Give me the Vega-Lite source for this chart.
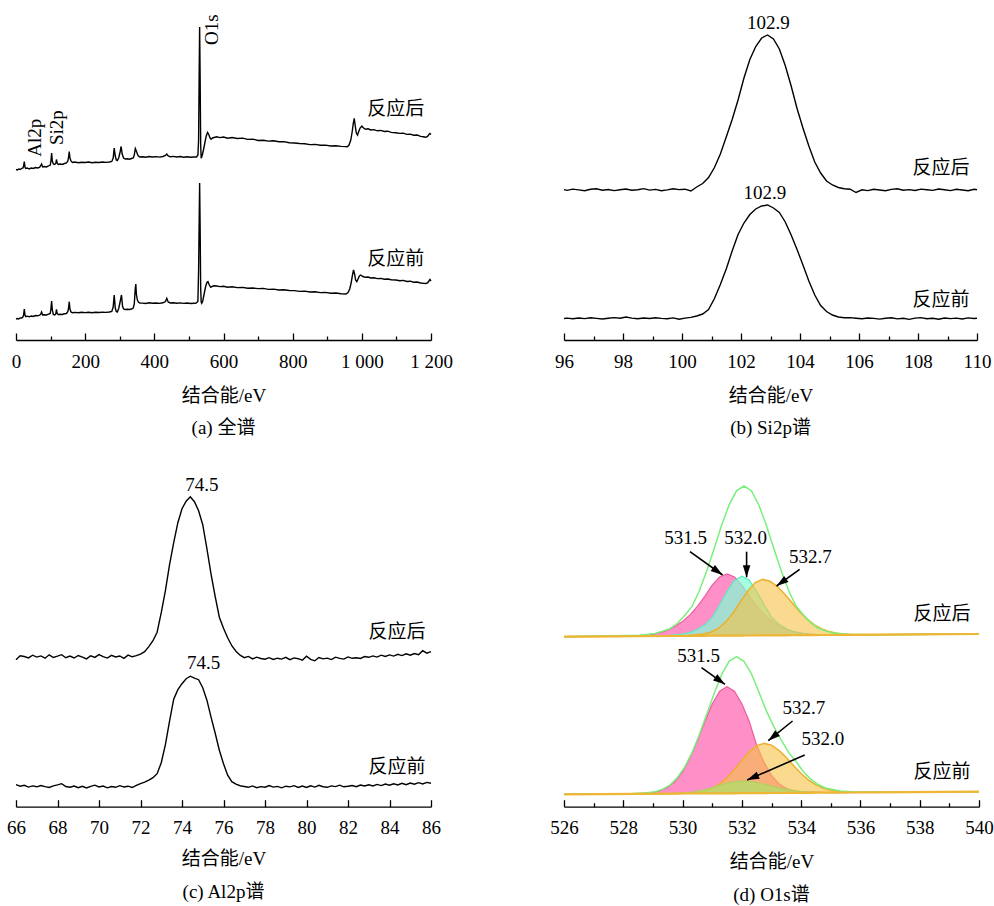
{
  "$schema": "https://vega.github.io/schema/vega-lite/v6.json",
  "background": "white",
  "padding": {"left": 6, "top": 10, "right": 5, "bottom": 5},
  "config": {
    "font": "Liberation Serif, Noto Sans CJK SC",
    "view": {"stroke": null},
    "axis": {
      "domainColor": "#000", "domainWidth": 1.3, "tickColor": "#000", "tickWidth": 1.3,
      "labelFont": "Liberation Serif", "labelColor": "#000", "labelFontSize": 19, "labelPadding": 19, "labelFlush": false, "labelOverlap": false,
      "titleFont": "Liberation Serif, Noto Sans CJK SC", "titleColor": "#000", "titleFontSize": 19, "titleFontWeight": "normal", "titlePadding": 12, "grid": false
    },
    "title": {"font": "Liberation Serif, Noto Sans CJK SC", "fontSize": 19, "fontWeight": "normal", "color": "#000", "offset": 14},
    "text": {"font": "Liberation Serif, Noto Sans CJK SC", "fontSize": 19, "color": "#000"}
  },
  "datasets": {
    "a": [
      {"t":"h","x":0,"y":170.5},{"t":"h","x":4,"y":170},{"t":"h","x":8,"y":171},{"t":"h","x":12,"y":170.5},{"t":"h","x":16,"y":171.5},{"t":"h","x":20,"y":172},{"t":"h","x":22,"y":174},{"t":"h","x":24,"y":178.5},{"t":"h","x":26,"y":173},{"t":"h","x":28,"y":171.5},{"t":"h","x":33,"y":172},{"t":"h","x":38,"y":171},{"t":"h","x":44,"y":172},{"t":"h","x":50,"y":171.5},{"t":"h","x":56,"y":172.5},{"t":"h","x":62,"y":172},{"t":"h","x":68,"y":172.5},{"t":"h","x":71,"y":174},{"t":"h","x":74,"y":176},{"t":"h","x":77,"y":173},{"t":"h","x":82,"y":173.5},{"t":"h","x":88,"y":173},{"t":"h","x":94,"y":174},{"t":"h","x":99,"y":175},{"t":"h","x":101,"y":179},{"t":"h","x":103,"y":187},{"t":"h","x":105,"y":179},{"t":"h","x":108,"y":176},{"t":"h","x":112,"y":175.5},{"t":"h","x":115,"y":176.5},{"t":"h","x":117,"y":180.5},{"t":"h","x":119,"y":177},{"t":"h","x":122,"y":175.5},{"t":"h","x":128,"y":176},{"t":"h","x":134,"y":175.5},{"t":"h","x":140,"y":176.5},{"t":"h","x":146,"y":177},{"t":"h","x":150,"y":179},{"t":"h","x":152,"y":183},{"t":"h","x":154,"y":188.5},{"t":"h","x":156,"y":182},{"t":"h","x":159,"y":179},{"t":"h","x":163,"y":177.5},{"t":"h","x":170,"y":178},{"t":"h","x":180,"y":177.3},{"t":"h","x":190,"y":177.8},{"t":"h","x":200,"y":177.5},{"t":"h","x":210,"y":178},{"t":"h","x":220,"y":177.3},{"t":"h","x":230,"y":177.8},{"t":"h","x":240,"y":177.5},{"t":"h","x":250,"y":178},{"t":"h","x":260,"y":177.6},{"t":"h","x":270,"y":178},{"t":"h","x":277,"y":178.5},{"t":"h","x":281,"y":182},{"t":"h","x":284,"y":192},{"t":"h","x":287,"y":184},{"t":"h","x":290,"y":180},{"t":"h","x":293,"y":179.5},{"t":"h","x":297,"y":182},{"t":"h","x":301,"y":188},{"t":"h","x":304,"y":193.5},{"t":"h","x":307,"y":186},{"t":"h","x":311,"y":182},{"t":"h","x":316,"y":181},{"t":"h","x":322,"y":181.3},{"t":"h","x":328,"y":180.8},{"t":"h","x":334,"y":181.5},{"t":"h","x":339,"y":182},{"t":"h","x":342,"y":185},{"t":"h","x":345,"y":191.5},{"t":"h","x":348,"y":189},{"t":"h","x":351,"y":186},{"t":"h","x":354,"y":184},{"t":"h","x":358,"y":183},{"t":"h","x":366,"y":183.3},{"t":"h","x":375,"y":182.8},{"t":"h","x":385,"y":183.5},{"t":"h","x":395,"y":183},{"t":"h","x":405,"y":183.4},{"t":"h","x":415,"y":182.9},{"t":"h","x":425,"y":183.5},{"t":"h","x":432,"y":184.5},{"t":"h","x":436,"y":186},{"t":"h","x":440,"y":184},{"t":"h","x":446,"y":183.2},{"t":"h","x":455,"y":183.6},{"t":"h","x":465,"y":183},{"t":"h","x":475,"y":183.5},{"t":"h","x":485,"y":182.8},{"t":"h","x":495,"y":183.2},{"t":"h","x":505,"y":182.7},{"t":"h","x":515,"y":183},{"t":"h","x":522,"y":183},{"t":"h","x":526,"y":185},{"t":"h","x":528,"y":200},{"t":"h","x":529.5,"y":260},{"t":"h","x":531,"y":313},{"t":"h","x":532.5,"y":260},{"t":"h","x":534,"y":195},{"t":"h","x":535.5,"y":181.7},{"t":"h","x":538,"y":184},{"t":"h","x":542,"y":190},{"t":"h","x":546,"y":197},{"t":"h","x":550,"y":204},{"t":"h","x":554,"y":207.5},{"t":"h","x":558,"y":205},{"t":"h","x":561,"y":202},{"t":"h","x":564,"y":200.7},{"t":"h","x":568,"y":202},{"t":"h","x":573,"y":202.5},{"t":"h","x":580,"y":203.2},{"t":"h","x":590,"y":202.4},{"t":"h","x":600,"y":203},{"t":"h","x":612,"y":201.8},{"t":"h","x":625,"y":202.5},{"t":"h","x":640,"y":201.5},{"t":"h","x":655,"y":201.9},{"t":"h","x":670,"y":200.6},{"t":"h","x":685,"y":200.9},{"t":"h","x":700,"y":199.5},{"t":"h","x":715,"y":199.8},{"t":"h","x":730,"y":198.9},{"t":"h","x":745,"y":199.2},{"t":"h","x":760,"y":198.2},{"t":"h","x":775,"y":198.4},{"t":"h","x":790,"y":197.3},{"t":"h","x":805,"y":197},{"t":"h","x":820,"y":196.5},{"t":"h","x":835,"y":196.3},{"t":"h","x":850,"y":195.4},{"t":"h","x":865,"y":195.6},{"t":"h","x":880,"y":194.7},{"t":"h","x":895,"y":194.9},{"t":"h","x":910,"y":194},{"t":"h","x":925,"y":194.2},{"t":"h","x":940,"y":193.6},{"t":"h","x":952,"y":193.4},{"t":"h","x":958,"y":193.3},{"t":"h","x":963,"y":195},{"t":"h","x":968,"y":200},{"t":"h","x":972,"y":208},{"t":"h","x":975,"y":216},{"t":"h","x":978,"y":221.7},{"t":"h","x":981,"y":214},{"t":"h","x":984,"y":207},{"t":"h","x":987.5,"y":205},{"t":"h","x":991,"y":208.5},{"t":"h","x":995,"y":212},{"t":"h","x":1000,"y":214},{"t":"h","x":1005,"y":212},{"t":"h","x":1011,"y":210.7},{"t":"h","x":1018,"y":211.2},{"t":"h","x":1026,"y":210},{"t":"h","x":1035,"y":210.4},{"t":"h","x":1045,"y":209.2},{"t":"h","x":1055,"y":209.6},{"t":"h","x":1065,"y":208.5},{"t":"h","x":1075,"y":208.8},{"t":"h","x":1085,"y":207.6},{"t":"h","x":1098,"y":207.3},{"t":"h","x":1110,"y":206.6},{"t":"h","x":1120,"y":206.9},{"t":"h","x":1130,"y":205.6},{"t":"h","x":1140,"y":205.9},{"t":"h","x":1150,"y":204.8},{"t":"h","x":1160,"y":205},{"t":"h","x":1170,"y":203.6},{"t":"h","x":1178,"y":203.3},{"t":"h","x":1185,"y":202.7},{"t":"h","x":1190,"y":203.5},{"t":"h","x":1194,"y":205.5},{"t":"h","x":1197,"y":206.5},{"t":"h","x":1200,"y":205.5},
      {"t":"q","x":0,"y":21},{"t":"q","x":4,"y":21.5},{"t":"q","x":8,"y":21},{"t":"q","x":12,"y":22},{"t":"q","x":16,"y":22},{"t":"q","x":20,"y":23},{"t":"q","x":22,"y":25},{"t":"q","x":24,"y":31},{"t":"q","x":26,"y":25},{"t":"q","x":28,"y":23.5},{"t":"q","x":33,"y":23.8},{"t":"q","x":38,"y":23.2},{"t":"q","x":44,"y":24},{"t":"q","x":50,"y":23.6},{"t":"q","x":56,"y":24.5},{"t":"q","x":62,"y":24.2},{"t":"q","x":68,"y":24.8},{"t":"q","x":71,"y":25.5},{"t":"q","x":74,"y":28},{"t":"q","x":77,"y":25},{"t":"q","x":82,"y":25.2},{"t":"q","x":88,"y":25},{"t":"q","x":94,"y":25.8},{"t":"q","x":99,"y":26.5},{"t":"q","x":101,"y":31},{"t":"q","x":103,"y":39},{"t":"q","x":105,"y":30},{"t":"q","x":108,"y":25.5},{"t":"q","x":112,"y":25},{"t":"q","x":115,"y":26},{"t":"q","x":117,"y":30.7},{"t":"q","x":119,"y":26.5},{"t":"q","x":122,"y":25.5},{"t":"q","x":128,"y":25.8},{"t":"q","x":134,"y":25.5},{"t":"q","x":140,"y":26.2},{"t":"q","x":146,"y":26.5},{"t":"q","x":150,"y":28.5},{"t":"q","x":152,"y":32},{"t":"q","x":154,"y":38.3},{"t":"q","x":156,"y":31},{"t":"q","x":159,"y":28},{"t":"q","x":163,"y":27.3},{"t":"q","x":170,"y":27.6},{"t":"q","x":180,"y":27.2},{"t":"q","x":190,"y":27.7},{"t":"q","x":200,"y":27.4},{"t":"q","x":210,"y":27.8},{"t":"q","x":220,"y":27.3},{"t":"q","x":230,"y":27.7},{"t":"q","x":240,"y":27.5},{"t":"q","x":250,"y":27.9},{"t":"q","x":260,"y":27.6},{"t":"q","x":270,"y":28},{"t":"q","x":277,"y":28.5},{"t":"q","x":281,"y":33},{"t":"q","x":284,"y":45},{"t":"q","x":287,"y":32},{"t":"q","x":290,"y":28.5},{"t":"q","x":293,"y":28},{"t":"q","x":297,"y":31.5},{"t":"q","x":301,"y":38},{"t":"q","x":305,"y":45},{"t":"q","x":308,"y":34},{"t":"q","x":311,"y":31},{"t":"q","x":316,"y":30.5},{"t":"q","x":322,"y":30.8},{"t":"q","x":328,"y":30.5},{"t":"q","x":334,"y":31},{"t":"q","x":339,"y":32},{"t":"q","x":342,"y":36},{"t":"q","x":345,"y":52},{"t":"q","x":346.5,"y":56},{"t":"q","x":348,"y":46},{"t":"q","x":351,"y":40},{"t":"q","x":354,"y":38},{"t":"q","x":358,"y":37},{"t":"q","x":366,"y":36.9},{"t":"q","x":375,"y":36.5},{"t":"q","x":385,"y":37.2},{"t":"q","x":395,"y":36.7},{"t":"q","x":405,"y":37},{"t":"q","x":415,"y":36.6},{"t":"q","x":425,"y":37.2},{"t":"q","x":432,"y":38.5},{"t":"q","x":436,"y":41.7},{"t":"q","x":440,"y":38},{"t":"q","x":446,"y":37},{"t":"q","x":455,"y":37.3},{"t":"q","x":465,"y":36.8},{"t":"q","x":475,"y":37.1},{"t":"q","x":485,"y":36.6},{"t":"q","x":495,"y":37},{"t":"q","x":505,"y":36.5},{"t":"q","x":515,"y":36.8},{"t":"q","x":521,"y":37},{"t":"q","x":526,"y":38.5},{"t":"q","x":528,"y":70},{"t":"q","x":529.5,"y":115},{"t":"q","x":531,"y":157},{"t":"q","x":532.5,"y":110},{"t":"q","x":534,"y":52},{"t":"q","x":535.5,"y":38},{"t":"q","x":537,"y":36.7},{"t":"q","x":540,"y":39},{"t":"q","x":544,"y":46},{"t":"q","x":548,"y":53},{"t":"q","x":552,"y":57.5},{"t":"q","x":555,"y":58.3},{"t":"q","x":559,"y":55},{"t":"q","x":563,"y":52.7},{"t":"q","x":567,"y":53.5},{"t":"q","x":573,"y":54.2},{"t":"q","x":580,"y":54},{"t":"q","x":590,"y":53.4},{"t":"q","x":600,"y":53.8},{"t":"q","x":612,"y":52.7},{"t":"q","x":625,"y":53.2},{"t":"q","x":640,"y":52.4},{"t":"q","x":655,"y":52.6},{"t":"q","x":670,"y":51.7},{"t":"q","x":685,"y":52},{"t":"q","x":700,"y":51.4},{"t":"q","x":715,"y":51.6},{"t":"q","x":730,"y":50.6},{"t":"q","x":745,"y":50.9},{"t":"q","x":760,"y":50},{"t":"q","x":775,"y":50.2},{"t":"q","x":790,"y":49.5},{"t":"q","x":805,"y":49.4},{"t":"q","x":820,"y":48.6},{"t":"q","x":835,"y":48.9},{"t":"q","x":850,"y":48},{"t":"q","x":865,"y":48.2},{"t":"q","x":880,"y":47.4},{"t":"q","x":895,"y":47.6},{"t":"q","x":910,"y":46.8},{"t":"q","x":925,"y":47},{"t":"q","x":940,"y":46.3},{"t":"q","x":954,"y":46},{"t":"q","x":960,"y":47.5},{"t":"q","x":965,"y":51},{"t":"q","x":969,"y":57},{"t":"q","x":973,"y":65},{"t":"q","x":976,"y":70},{"t":"q","x":979,"y":66},{"t":"q","x":982,"y":60},{"t":"q","x":985.5,"y":58.3},{"t":"q","x":989,"y":61},{"t":"q","x":993,"y":64},{"t":"q","x":997,"y":65},{"t":"q","x":1003,"y":63.5},{"t":"q","x":1011,"y":62.7},{"t":"q","x":1018,"y":63},{"t":"q","x":1026,"y":62},{"t":"q","x":1035,"y":62.3},{"t":"q","x":1045,"y":61.4},{"t":"q","x":1055,"y":61.6},{"t":"q","x":1065,"y":60.8},{"t":"q","x":1075,"y":61},{"t":"q","x":1085,"y":60.3},{"t":"q","x":1098,"y":60},{"t":"q","x":1110,"y":59.3},{"t":"q","x":1120,"y":59.6},{"t":"q","x":1130,"y":58.5},{"t":"q","x":1140,"y":58.8},{"t":"q","x":1150,"y":57.8},{"t":"q","x":1160,"y":58},{"t":"q","x":1170,"y":57},{"t":"q","x":1178,"y":56.7},{"t":"q","x":1185,"y":56.5},{"t":"q","x":1190,"y":57.2},{"t":"q","x":1194,"y":59},{"t":"q","x":1197,"y":60.5},{"t":"q","x":1200,"y":59}
    ],
    "b": [
      {"t":"h","x":96.0,"y":150.4},{"t":"h","x":96.1,"y":149.6},{"t":"h","x":96.3,"y":150.9},{"t":"h","x":96.5,"y":150.1},{"t":"h","x":96.7,"y":149.2},{"t":"h","x":96.9,"y":150.7},{"t":"h","x":97.1,"y":151.3},{"t":"h","x":97.3,"y":149.8},{"t":"h","x":97.5,"y":150.5},{"t":"h","x":97.7,"y":149.4},{"t":"h","x":97.9,"y":150.2},{"t":"h","x":98.1,"y":151.0},{"t":"h","x":98.3,"y":149.7},{"t":"h","x":98.5,"y":150.3},{"t":"h","x":98.7,"y":151.4},{"t":"h","x":98.9,"y":149.9},{"t":"h","x":99.1,"y":150.6},{"t":"h","x":99.3,"y":149.3},{"t":"h","x":99.5,"y":150.1},{"t":"h","x":99.7,"y":151.2},{"t":"h","x":99.9,"y":150.4},{"t":"h","x":100.1,"y":150.8},{"t":"h","x":100.3,"y":149.0},{"t":"h","x":100.5,"y":153.0},{"t":"h","x":100.7,"y":156.5},{"t":"h","x":100.9,"y":162.5},{"t":"h","x":101.1,"y":172.5},{"t":"h","x":101.3,"y":186.0},{"t":"h","x":101.5,"y":203.0},{"t":"h","x":101.7,"y":220.5},{"t":"h","x":101.9,"y":240.0},{"t":"h","x":102.1,"y":262.0},{"t":"h","x":102.3,"y":280.5},{"t":"h","x":102.5,"y":293.5},{"t":"h","x":102.7,"y":302.0},{"t":"h","x":102.9,"y":305.0},{"t":"h","x":103.1,"y":301.0},{"t":"h","x":103.3,"y":291.0},{"t":"h","x":103.5,"y":274.5},{"t":"h","x":103.7,"y":254.0},{"t":"h","x":103.9,"y":231.5},{"t":"h","x":104.1,"y":212.0},{"t":"h","x":104.3,"y":194.0},{"t":"h","x":104.5,"y":178.0},{"t":"h","x":104.7,"y":167.0},{"t":"h","x":104.9,"y":159.0},{"t":"h","x":105.1,"y":155.0},{"t":"h","x":105.3,"y":152.5},{"t":"h","x":105.5,"y":151.2},{"t":"h","x":105.7,"y":150.8},{"t":"h","x":105.9,"y":147.5},{"t":"h","x":106.1,"y":150.2},{"t":"h","x":106.3,"y":149.4},{"t":"h","x":106.5,"y":150.8},{"t":"h","x":106.7,"y":150.0},{"t":"h","x":106.9,"y":149.2},{"t":"h","x":107.1,"y":150.6},{"t":"h","x":107.3,"y":151.3},{"t":"h","x":107.5,"y":149.8},{"t":"h","x":107.7,"y":150.4},{"t":"h","x":107.9,"y":149.5},{"t":"h","x":108.1,"y":150.9},{"t":"h","x":108.3,"y":150.2},{"t":"h","x":108.5,"y":149.6},{"t":"h","x":108.7,"y":151.0},{"t":"h","x":108.9,"y":150.3},{"t":"h","x":109.1,"y":149.4},{"t":"h","x":109.3,"y":150.7},{"t":"h","x":109.5,"y":150.0},{"t":"h","x":109.7,"y":149.3},{"t":"h","x":109.9,"y":150.8},{"t":"h","x":110.0,"y":150.3},
      {"t":"q","x":96.0,"y":21.5},{"t":"q","x":96.1,"y":21.9},{"t":"q","x":96.3,"y":21.2},{"t":"q","x":96.5,"y":22.0},{"t":"q","x":96.7,"y":21.4},{"t":"q","x":96.9,"y":22.3},{"t":"q","x":97.1,"y":21.6},{"t":"q","x":97.3,"y":21.0},{"t":"q","x":97.5,"y":21.8},{"t":"q","x":97.7,"y":22.4},{"t":"q","x":97.9,"y":21.7},{"t":"q","x":98.1,"y":23.0},{"t":"q","x":98.3,"y":21.9},{"t":"q","x":98.5,"y":21.3},{"t":"q","x":98.7,"y":22.0},{"t":"q","x":98.9,"y":21.5},{"t":"q","x":99.1,"y":22.2},{"t":"q","x":99.3,"y":21.6},{"t":"q","x":99.5,"y":21.2},{"t":"q","x":99.7,"y":22.1},{"t":"q","x":99.9,"y":20.8},{"t":"q","x":100.1,"y":21.9},{"t":"q","x":100.3,"y":22.6},{"t":"q","x":100.5,"y":24.0},{"t":"q","x":100.7,"y":26.0},{"t":"q","x":100.9,"y":30.5},{"t":"q","x":101.1,"y":41.5},{"t":"q","x":101.3,"y":55.5},{"t":"q","x":101.5,"y":71.0},{"t":"q","x":101.7,"y":89.0},{"t":"q","x":101.9,"y":105.5},{"t":"q","x":102.1,"y":117.0},{"t":"q","x":102.3,"y":125.5},{"t":"q","x":102.5,"y":131.0},{"t":"q","x":102.7,"y":134.0},{"t":"q","x":102.9,"y":135.0},{"t":"q","x":103.1,"y":132.0},{"t":"q","x":103.3,"y":127.5},{"t":"q","x":103.5,"y":118.0},{"t":"q","x":103.7,"y":105.0},{"t":"q","x":103.9,"y":90.5},{"t":"q","x":104.1,"y":75.0},{"t":"q","x":104.3,"y":59.0},{"t":"q","x":104.5,"y":45.0},{"t":"q","x":104.7,"y":34.5},{"t":"q","x":104.9,"y":28.5},{"t":"q","x":105.1,"y":25.0},{"t":"q","x":105.3,"y":23.0},{"t":"q","x":105.5,"y":22.3},{"t":"q","x":105.7,"y":22.4},{"t":"q","x":105.9,"y":21.8},{"t":"q","x":106.1,"y":21.3},{"t":"q","x":106.3,"y":22.0},{"t":"q","x":106.5,"y":21.6},{"t":"q","x":106.7,"y":20.9},{"t":"q","x":106.9,"y":21.7},{"t":"q","x":107.1,"y":22.2},{"t":"q","x":107.3,"y":21.1},{"t":"q","x":107.5,"y":21.8},{"t":"q","x":107.7,"y":20.6},{"t":"q","x":107.9,"y":21.9},{"t":"q","x":108.1,"y":22.4},{"t":"q","x":108.3,"y":21.2},{"t":"q","x":108.5,"y":21.7},{"t":"q","x":108.7,"y":20.8},{"t":"q","x":108.9,"y":22.0},{"t":"q","x":109.1,"y":21.4},{"t":"q","x":109.3,"y":21.9},{"t":"q","x":109.5,"y":21.0},{"t":"q","x":109.7,"y":22.1},{"t":"q","x":109.9,"y":21.5},{"t":"q","x":110.0,"y":21.8}
    ],
    "c": [
      {"t":"h","x":66.0,"y":147.0},{"t":"h","x":66.2,"y":151.0},{"t":"h","x":66.4,"y":150.2},{"t":"h","x":66.6,"y":148.8},{"t":"h","x":66.8,"y":151.5},{"t":"h","x":67.0,"y":149.6},{"t":"h","x":67.2,"y":150.8},{"t":"h","x":67.4,"y":148.5},{"t":"h","x":67.6,"y":151.9},{"t":"h","x":67.8,"y":149.2},{"t":"h","x":68.0,"y":150.5},{"t":"h","x":68.2,"y":152.0},{"t":"h","x":68.4,"y":149.0},{"t":"h","x":68.6,"y":150.6},{"t":"h","x":68.8,"y":148.7},{"t":"h","x":69.0,"y":151.2},{"t":"h","x":69.2,"y":149.5},{"t":"h","x":69.4,"y":147.8},{"t":"h","x":69.6,"y":150.9},{"t":"h","x":69.8,"y":149.3},{"t":"h","x":70.0,"y":152.1},{"t":"h","x":70.2,"y":150.0},{"t":"h","x":70.4,"y":148.6},{"t":"h","x":70.6,"y":151.4},{"t":"h","x":70.8,"y":149.8},{"t":"h","x":71.0,"y":150.7},{"t":"h","x":71.2,"y":148.4},{"t":"h","x":71.4,"y":151.6},{"t":"h","x":71.6,"y":149.9},{"t":"h","x":71.8,"y":151.0},{"t":"h","x":72.0,"y":152.5},{"t":"h","x":72.2,"y":155.0},{"t":"h","x":72.4,"y":160.0},{"t":"h","x":72.6,"y":166.0},{"t":"h","x":72.8,"y":174.5},{"t":"h","x":73.0,"y":194.0},{"t":"h","x":73.2,"y":216.0},{"t":"h","x":73.4,"y":242.0},{"t":"h","x":73.6,"y":264.0},{"t":"h","x":73.8,"y":284.0},{"t":"h","x":74.0,"y":298.0},{"t":"h","x":74.2,"y":305.5},{"t":"h","x":74.4,"y":310.0},{"t":"h","x":74.6,"y":305.0},{"t":"h","x":74.8,"y":296.0},{"t":"h","x":75.0,"y":282.0},{"t":"h","x":75.2,"y":258.0},{"t":"h","x":75.4,"y":232.5},{"t":"h","x":75.6,"y":210.0},{"t":"h","x":75.8,"y":189.5},{"t":"h","x":76.0,"y":178.5},{"t":"h","x":76.2,"y":169.0},{"t":"h","x":76.4,"y":161.0},{"t":"h","x":76.6,"y":155.5},{"t":"h","x":76.8,"y":151.5},{"t":"h","x":77.0,"y":149.0},{"t":"h","x":77.2,"y":150.3},{"t":"h","x":77.4,"y":147.8},{"t":"h","x":77.6,"y":149.5},{"t":"h","x":77.8,"y":148.2},{"t":"h","x":78.0,"y":147.5},{"t":"h","x":78.2,"y":149.0},{"t":"h","x":78.4,"y":147.2},{"t":"h","x":78.6,"y":148.5},{"t":"h","x":78.8,"y":147.6},{"t":"h","x":79.0,"y":149.3},{"t":"h","x":79.2,"y":147.0},{"t":"h","x":79.4,"y":148.8},{"t":"h","x":79.6,"y":148.0},{"t":"h","x":79.8,"y":146.5},{"t":"h","x":80.0,"y":150.5},{"t":"h","x":80.2,"y":147.3},{"t":"h","x":80.4,"y":145.9},{"t":"h","x":80.6,"y":149.2},{"t":"h","x":80.8,"y":147.8},{"t":"h","x":81.0,"y":148.6},{"t":"h","x":81.2,"y":147.1},{"t":"h","x":81.4,"y":149.5},{"t":"h","x":81.6,"y":148.3},{"t":"h","x":81.8,"y":147.6},{"t":"h","x":82.0,"y":149.8},{"t":"h","x":82.2,"y":148.4},{"t":"h","x":82.4,"y":149.0},{"t":"h","x":82.6,"y":148.2},{"t":"h","x":82.8,"y":150.1},{"t":"h","x":83.0,"y":149.4},{"t":"h","x":83.2,"y":150.8},{"t":"h","x":83.4,"y":149.6},{"t":"h","x":83.6,"y":151.5},{"t":"h","x":83.8,"y":150.2},{"t":"h","x":84.0,"y":151.8},{"t":"h","x":84.2,"y":150.6},{"t":"h","x":84.4,"y":152.4},{"t":"h","x":84.6,"y":151.1},{"t":"h","x":84.8,"y":152.9},{"t":"h","x":85.0,"y":151.5},{"t":"h","x":85.2,"y":153.2},{"t":"h","x":85.4,"y":152.0},{"t":"h","x":85.6,"y":156.0},{"t":"h","x":85.8,"y":153.5},{"t":"h","x":86.0,"y":155.0},
      {"t":"q","x":66.0,"y":22.0},{"t":"q","x":66.2,"y":20.5},{"t":"q","x":66.4,"y":21.4},{"t":"q","x":66.6,"y":19.6},{"t":"q","x":66.8,"y":20.8},{"t":"q","x":67.0,"y":19.9},{"t":"q","x":67.2,"y":21.2},{"t":"q","x":67.4,"y":20.1},{"t":"q","x":67.6,"y":19.3},{"t":"q","x":67.8,"y":20.9},{"t":"q","x":68.0,"y":21.8},{"t":"q","x":68.2,"y":23.0},{"t":"q","x":68.4,"y":20.2},{"t":"q","x":68.6,"y":19.5},{"t":"q","x":68.8,"y":20.7},{"t":"q","x":69.0,"y":19.0},{"t":"q","x":69.2,"y":20.4},{"t":"q","x":69.4,"y":18.8},{"t":"q","x":69.6,"y":20.3},{"t":"q","x":69.8,"y":21.5},{"t":"q","x":70.0,"y":19.8},{"t":"q","x":70.2,"y":20.6},{"t":"q","x":70.4,"y":18.9},{"t":"q","x":70.6,"y":20.2},{"t":"q","x":70.8,"y":19.4},{"t":"q","x":71.0,"y":21.0},{"t":"q","x":71.2,"y":19.7},{"t":"q","x":71.4,"y":20.5},{"t":"q","x":71.6,"y":19.2},{"t":"q","x":71.8,"y":21.3},{"t":"q","x":72.0,"y":23.0},{"t":"q","x":72.2,"y":24.5},{"t":"q","x":72.4,"y":26.5},{"t":"q","x":72.6,"y":29.0},{"t":"q","x":72.8,"y":33.0},{"t":"q","x":73.0,"y":44.0},{"t":"q","x":73.2,"y":62.0},{"t":"q","x":73.4,"y":85.5},{"t":"q","x":73.6,"y":107.5},{"t":"q","x":73.8,"y":117.0},{"t":"q","x":74.0,"y":123.0},{"t":"q","x":74.2,"y":128.0},{"t":"q","x":74.4,"y":130.5},{"t":"q","x":74.6,"y":128.5},{"t":"q","x":74.8,"y":127.0},{"t":"q","x":75.0,"y":119.0},{"t":"q","x":75.2,"y":106.5},{"t":"q","x":75.4,"y":89.5},{"t":"q","x":75.6,"y":73.5},{"t":"q","x":75.8,"y":56.5},{"t":"q","x":76.0,"y":43.0},{"t":"q","x":76.2,"y":31.5},{"t":"q","x":76.4,"y":25.0},{"t":"q","x":76.6,"y":22.5},{"t":"q","x":76.8,"y":21.0},{"t":"q","x":77.0,"y":20.2},{"t":"q","x":77.2,"y":19.4},{"t":"q","x":77.4,"y":20.8},{"t":"q","x":77.6,"y":19.0},{"t":"q","x":77.8,"y":20.1},{"t":"q","x":78.0,"y":19.5},{"t":"q","x":78.2,"y":21.2},{"t":"q","x":78.4,"y":19.6},{"t":"q","x":78.6,"y":20.3},{"t":"q","x":78.8,"y":18.9},{"t":"q","x":79.0,"y":20.5},{"t":"q","x":79.2,"y":19.8},{"t":"q","x":79.4,"y":21.0},{"t":"q","x":79.6,"y":19.3},{"t":"q","x":79.8,"y":20.6},{"t":"q","x":80.0,"y":19.2},{"t":"q","x":80.2,"y":20.9},{"t":"q","x":80.4,"y":19.6},{"t":"q","x":80.6,"y":21.4},{"t":"q","x":80.8,"y":20.0},{"t":"q","x":81.0,"y":19.4},{"t":"q","x":81.2,"y":20.8},{"t":"q","x":81.4,"y":20.1},{"t":"q","x":81.6,"y":21.5},{"t":"q","x":81.8,"y":19.9},{"t":"q","x":82.0,"y":20.5},{"t":"q","x":82.2,"y":21.2},{"t":"q","x":82.4,"y":20.0},{"t":"q","x":82.6,"y":21.6},{"t":"q","x":82.8,"y":20.7},{"t":"q","x":83.0,"y":21.9},{"t":"q","x":83.2,"y":20.8},{"t":"q","x":83.4,"y":22.3},{"t":"q","x":83.6,"y":21.1},{"t":"q","x":83.8,"y":22.6},{"t":"q","x":84.0,"y":21.5},{"t":"q","x":84.2,"y":22.9},{"t":"q","x":84.4,"y":21.8},{"t":"q","x":84.6,"y":23.4},{"t":"q","x":84.8,"y":22.0},{"t":"q","x":85.0,"y":23.7},{"t":"q","x":85.2,"y":22.5},{"t":"q","x":85.4,"y":24.0},{"t":"q","x":85.6,"y":22.8},{"t":"q","x":85.8,"y":24.3},{"t":"q","x":86.0,"y":23.5}
    ],
    "d": [
      {"t":"h","c":"p","x":526,"y":170,"b":170},{"t":"h","c":"p","x":528,"y":170.5,"b":170.4},{"t":"h","c":"p","x":528.5,"y":171.1,"b":170.5},{"t":"h","c":"p","x":528.75,"y":171.5,"b":170.5},{"t":"h","c":"p","x":529,"y":172.6,"b":170.6},{"t":"h","c":"p","x":529.25,"y":174.1,"b":170.6},{"t":"h","c":"p","x":529.5,"y":176.6,"b":170.7},{"t":"h","c":"p","x":529.75,"y":180.5,"b":170.7},{"t":"h","c":"p","x":530,"y":185.2,"b":170.8},{"t":"h","c":"p","x":530.25,"y":191.8,"b":170.8},{"t":"h","c":"p","x":530.5,"y":200.3,"b":170.9},{"t":"h","c":"p","x":530.75,"y":210.3,"b":170.9},{"t":"h","c":"p","x":531,"y":221.5,"b":171},{"t":"h","c":"p","x":531.25,"y":229.7,"b":171},{"t":"h","c":"p","x":531.5,"y":232.7,"b":171},{"t":"h","c":"p","x":531.75,"y":229.8,"b":171.1},{"t":"h","c":"p","x":532,"y":221.6,"b":171.1},{"t":"h","c":"p","x":532.25,"y":210.6,"b":171.2},{"t":"h","c":"p","x":532.5,"y":200.6,"b":171.2},{"t":"h","c":"p","x":532.75,"y":192.3,"b":171.3},{"t":"h","c":"p","x":533,"y":185.7,"b":171.3},{"t":"h","c":"p","x":533.25,"y":181.2,"b":171.4},{"t":"h","c":"p","x":533.5,"y":177.3,"b":171.4},{"t":"h","c":"p","x":533.75,"y":174.9,"b":171.5},{"t":"h","c":"p","x":534,"y":173.5,"b":171.5},{"t":"h","c":"p","x":534.25,"y":172.6,"b":171.6},{"t":"h","c":"p","x":534.5,"y":172.2,"b":171.6},{"t":"h","c":"p","x":535,"y":171.8,"b":171.7},{"t":"h","c":"p","x":540,"y":172.7,"b":172.7},
      {"t":"h","c":"c","x":526,"y":170,"b":170},{"t":"h","c":"c","x":529,"y":171.0,"b":170.6},{"t":"h","c":"c","x":529.5,"y":171.1,"b":170.7},{"t":"h","c":"c","x":530,"y":172.6,"b":170.8},{"t":"h","c":"c","x":530.25,"y":174.3,"b":170.8},{"t":"h","c":"c","x":530.5,"y":177.4,"b":170.9},{"t":"h","c":"c","x":530.75,"y":181.9,"b":170.9},{"t":"h","c":"c","x":531,"y":189.3,"b":171},{"t":"h","c":"c","x":531.25,"y":201.7,"b":171},{"t":"h","c":"c","x":531.5,"y":215.3,"b":171},{"t":"h","c":"c","x":531.75,"y":226.3,"b":171.1},{"t":"h","c":"c","x":532,"y":230.5,"b":171.1},{"t":"h","c":"c","x":532.25,"y":226.4,"b":171.2},{"t":"h","c":"c","x":532.5,"y":215.5,"b":171.2},{"t":"h","c":"c","x":532.75,"y":202.0,"b":171.3},{"t":"h","c":"c","x":533,"y":189.6,"b":171.3},{"t":"h","c":"c","x":533.25,"y":182.4,"b":171.4},{"t":"h","c":"c","x":533.5,"y":177.9,"b":171.4},{"t":"h","c":"c","x":533.75,"y":175.0,"b":171.5},{"t":"h","c":"c","x":534,"y":173.3,"b":171.5},{"t":"h","c":"c","x":534.5,"y":172.0,"b":171.6},{"t":"h","c":"c","x":535,"y":171.7,"b":171.7},{"t":"h","c":"c","x":540,"y":172.7,"b":172.7},
      {"t":"h","c":"o","x":526,"y":170,"b":170},{"t":"h","c":"o","x":529.7,"y":170.8,"b":170.7},{"t":"h","c":"o","x":530.2,"y":171.3,"b":170.8},{"t":"h","c":"o","x":530.7,"y":172.7,"b":170.9},{"t":"h","c":"o","x":530.95,"y":174.5,"b":171},{"t":"h","c":"o","x":531.2,"y":178.2,"b":171},{"t":"h","c":"o","x":531.45,"y":184.6,"b":171},{"t":"h","c":"o","x":531.7,"y":193.7,"b":171.1},{"t":"h","c":"o","x":531.95,"y":204.7,"b":171.1},{"t":"h","c":"o","x":532.2,"y":215.8,"b":171.2},{"t":"h","c":"o","x":532.45,"y":224.1,"b":171.2},{"t":"h","c":"o","x":532.7,"y":227.3,"b":171.3},{"t":"h","c":"o","x":532.95,"y":225.4,"b":171.3},{"t":"h","c":"o","x":533.2,"y":220.1,"b":171.4},{"t":"h","c":"o","x":533.45,"y":212.4,"b":171.4},{"t":"h","c":"o","x":533.7,"y":203.6,"b":171.5},{"t":"h","c":"o","x":533.95,"y":195.0,"b":171.5},{"t":"h","c":"o","x":534.2,"y":187.6,"b":171.6},{"t":"h","c":"o","x":534.45,"y":181.8,"b":171.6},{"t":"h","c":"o","x":534.7,"y":177.8,"b":171.7},{"t":"h","c":"o","x":534.95,"y":175.1,"b":171.7},{"t":"h","c":"o","x":535.2,"y":173.4,"b":171.7},{"t":"h","c":"o","x":535.45,"y":172.6,"b":171.8},{"t":"h","c":"o","x":535.7,"y":172.2,"b":171.8},{"t":"h","c":"o","x":536.5,"y":172.0,"b":172.0},{"t":"h","c":"o","x":540,"y":172.7,"b":172.7},
      {"t":"h","c":"e","x":526,"y":170,"b":170},{"t":"h","c":"e","x":528.57,"y":171.4,"b":170.5},{"t":"h","c":"e","x":529.07,"y":173.2,"b":170.6},{"t":"h","c":"e","x":529.32,"y":175.5,"b":170.6},{"t":"h","c":"e","x":529.57,"y":178.0,"b":170.7},{"t":"h","c":"e","x":529.82,"y":183.2,"b":170.7},{"t":"h","c":"e","x":530.07,"y":191.3,"b":170.8},{"t":"h","c":"e","x":530.32,"y":200.3,"b":170.8},{"t":"h","c":"e","x":530.57,"y":216.2,"b":170.9},{"t":"h","c":"e","x":530.82,"y":236.2,"b":170.9},{"t":"h","c":"e","x":531.07,"y":258.5,"b":171},{"t":"h","c":"e","x":531.32,"y":281.7,"b":171},{"t":"h","c":"e","x":531.57,"y":301.8,"b":171},{"t":"h","c":"e","x":531.82,"y":315.9,"b":171.1},{"t":"h","c":"e","x":532.07,"y":320.7,"b":171.1},{"t":"h","c":"e","x":532.32,"y":316.0,"b":171.2},{"t":"h","c":"e","x":532.57,"y":302.0,"b":171.2},{"t":"h","c":"e","x":532.82,"y":282.0,"b":171.3},{"t":"h","c":"e","x":533.07,"y":259.0,"b":171.3},{"t":"h","c":"e","x":533.32,"y":236.7,"b":171.4},{"t":"h","c":"e","x":533.57,"y":216.7,"b":171.4},{"t":"h","c":"e","x":533.82,"y":201.0,"b":171.5},{"t":"h","c":"e","x":534.07,"y":192.0,"b":171.5},{"t":"h","c":"e","x":534.32,"y":184.1,"b":171.6},{"t":"h","c":"e","x":534.57,"y":178.7,"b":171.6},{"t":"h","c":"e","x":534.82,"y":175.8,"b":171.7},{"t":"h","c":"e","x":535.07,"y":173.8,"b":171.7},{"t":"h","c":"e","x":535.57,"y":172.5,"b":171.8},{"t":"h","c":"e","x":536.5,"y":172.0,"b":172.0},{"t":"h","c":"e","x":540,"y":172.7,"b":172.7},
      {"t":"q","c":"p","x":526,"y":12.4,"b":12.4},{"t":"q","c":"p","x":528.5,"y":13.1,"b":12.9},{"t":"q","c":"p","x":529,"y":14.2,"b":13.0},{"t":"q","c":"p","x":529.25,"y":15.9,"b":13.0},{"t":"q","c":"p","x":529.5,"y":19.4,"b":13.0},{"t":"q","c":"p","x":529.75,"y":25.4,"b":13.1},{"t":"q","c":"p","x":530,"y":35.0,"b":13.1},{"t":"q","c":"p","x":530.25,"y":48.7,"b":13.2},{"t":"q","c":"p","x":530.5,"y":65.9,"b":13.2},{"t":"q","c":"p","x":530.75,"y":85.0,"b":13.3},{"t":"q","c":"p","x":531,"y":102.7,"b":13.3},{"t":"q","c":"p","x":531.25,"y":115.4,"b":13.4},{"t":"q","c":"p","x":531.5,"y":120.0,"b":13.4},{"t":"q","c":"p","x":531.75,"y":115.4,"b":13.4},{"t":"q","c":"p","x":532,"y":102.9,"b":13.5},{"t":"q","c":"p","x":532.25,"y":85.2,"b":13.5},{"t":"q","c":"p","x":532.5,"y":61.5,"b":13.6},{"t":"q","c":"p","x":532.75,"y":44.1,"b":13.6},{"t":"q","c":"p","x":533,"y":31.3,"b":13.7},{"t":"q","c":"p","x":533.25,"y":22.9,"b":13.7},{"t":"q","c":"p","x":533.5,"y":18.2,"b":13.8},{"t":"q","c":"p","x":533.75,"y":15.8,"b":13.8},{"t":"q","c":"p","x":534,"y":14.9,"b":13.9},{"t":"q","c":"p","x":534.5,"y":14.5,"b":14.0},{"t":"q","c":"p","x":535,"y":14.1,"b":14.1},{"t":"q","c":"p","x":540,"y":15.0,"b":15.0},
      {"t":"q","c":"o","x":526,"y":12.4,"b":12.4},{"t":"q","c":"o","x":529.75,"y":13.2,"b":13.1},{"t":"q","c":"o","x":530.25,"y":13.7,"b":13.2},{"t":"q","c":"o","x":530.75,"y":15.9,"b":13.3},{"t":"q","c":"o","x":531,"y":18.4,"b":13.3},{"t":"q","c":"o","x":531.25,"y":22.8,"b":13.4},{"t":"q","c":"o","x":531.5,"y":29.0,"b":13.4},{"t":"q","c":"o","x":531.75,"y":37.1,"b":13.4},{"t":"q","c":"o","x":532,"y":46.3,"b":13.5},{"t":"q","c":"o","x":532.25,"y":54.8,"b":13.5},{"t":"q","c":"o","x":532.5,"y":61.1,"b":13.6},{"t":"q","c":"o","x":532.75,"y":63.3,"b":13.6},{"t":"q","c":"o","x":533,"y":61.6,"b":13.7},{"t":"q","c":"o","x":533.25,"y":56.4,"b":13.7},{"t":"q","c":"o","x":533.5,"y":49.1,"b":13.8},{"t":"q","c":"o","x":533.75,"y":40.9,"b":13.8},{"t":"q","c":"o","x":534,"y":33.2,"b":13.9},{"t":"q","c":"o","x":534.25,"y":26.6,"b":13.9},{"t":"q","c":"o","x":534.5,"y":21.8,"b":14.0},{"t":"q","c":"o","x":534.75,"y":18.4,"b":14.0},{"t":"q","c":"o","x":535,"y":16.4,"b":14.1},{"t":"q","c":"o","x":535.25,"y":15.2,"b":14.1},{"t":"q","c":"o","x":535.75,"y":14.5,"b":14.2},{"t":"q","c":"o","x":536.5,"y":14.4,"b":14.4},{"t":"q","c":"o","x":540,"y":15.0,"b":15.0},
      {"t":"q","c":"g","x":526,"y":12.4,"b":12.4},{"t":"q","c":"g","x":529.5,"y":13.1,"b":13.0},{"t":"q","c":"g","x":530,"y":13.7,"b":13.1},{"t":"q","c":"g","x":530.25,"y":14.4,"b":13.2},{"t":"q","c":"g","x":530.5,"y":15.4,"b":13.2},{"t":"q","c":"g","x":530.75,"y":17.0,"b":13.3},{"t":"q","c":"g","x":531,"y":18.9,"b":13.3},{"t":"q","c":"g","x":531.25,"y":21.3,"b":13.4},{"t":"q","c":"g","x":531.5,"y":23.5,"b":13.4},{"t":"q","c":"g","x":531.75,"y":25.0,"b":13.4},{"t":"q","c":"g","x":532,"y":25.7,"b":13.5},{"t":"q","c":"g","x":532.25,"y":25.3,"b":13.5},{"t":"q","c":"g","x":532.5,"y":24.2,"b":13.6},{"t":"q","c":"g","x":532.75,"y":22.5,"b":13.6},{"t":"q","c":"g","x":533,"y":20.7,"b":13.7},{"t":"q","c":"g","x":533.25,"y":18.8,"b":13.7},{"t":"q","c":"g","x":533.5,"y":17.3,"b":13.8},{"t":"q","c":"g","x":533.75,"y":16.0,"b":13.8},{"t":"q","c":"g","x":534,"y":15.2,"b":13.9},{"t":"q","c":"g","x":534.5,"y":14.4,"b":14.0},{"t":"q","c":"g","x":535,"y":14.2,"b":14.1},{"t":"q","c":"g","x":540,"y":15.0,"b":15.0},
      {"t":"q","c":"e","x":526,"y":12.4,"b":12.4},{"t":"q","c":"e","x":528.32,"y":13.2,"b":12.8},{"t":"q","c":"e","x":528.82,"y":14.0,"b":12.9},{"t":"q","c":"e","x":529.07,"y":15.0,"b":13.0},{"t":"q","c":"e","x":529.32,"y":17.3,"b":13.0},{"t":"q","c":"e","x":529.57,"y":21.5,"b":13.0},{"t":"q","c":"e","x":529.82,"y":29.0,"b":13.1},{"t":"q","c":"e","x":530.07,"y":39.5,"b":13.1},{"t":"q","c":"e","x":530.32,"y":54.0,"b":13.2},{"t":"q","c":"e","x":530.57,"y":72.5,"b":13.2},{"t":"q","c":"e","x":530.82,"y":93.0,"b":13.3},{"t":"q","c":"e","x":531.07,"y":113.4,"b":13.3},{"t":"q","c":"e","x":531.32,"y":132.3,"b":13.4},{"t":"q","c":"e","x":531.57,"y":145.4,"b":13.4},{"t":"q","c":"e","x":531.82,"y":150.0,"b":13.4},{"t":"q","c":"e","x":532.07,"y":145.4,"b":13.5},{"t":"q","c":"e","x":532.32,"y":133.2,"b":13.5},{"t":"q","c":"e","x":532.57,"y":115.0,"b":13.6},{"t":"q","c":"e","x":532.82,"y":96.3,"b":13.6},{"t":"q","c":"e","x":533.07,"y":80.6,"b":13.7},{"t":"q","c":"e","x":533.32,"y":67.0,"b":13.7},{"t":"q","c":"e","x":533.57,"y":54.6,"b":13.8},{"t":"q","c":"e","x":533.82,"y":45.4,"b":13.8},{"t":"q","c":"e","x":534.07,"y":35.2,"b":13.9},{"t":"q","c":"e","x":534.32,"y":27.6,"b":13.9},{"t":"q","c":"e","x":534.57,"y":22.2,"b":14.0},{"t":"q","c":"e","x":534.82,"y":18.7,"b":14.0},{"t":"q","c":"e","x":535.32,"y":15.8,"b":14.1},{"t":"q","c":"e","x":535.82,"y":14.6,"b":14.2},{"t":"q","c":"e","x":536.5,"y":14.4,"b":14.4},{"t":"q","c":"e","x":540,"y":15.0,"b":15.0}
    ],
    "ar": [
      {"x":531.35,"y":231.7,"x2":530.25,"y2":255},
      {"x":532.16,"y":229.5,"x2":532.16,"y2":255},
      {"x":533.17,"y":220.7,"x2":533.95,"y2":237.4},
      {"x":531.43,"y":122.4,"x2":530.64,"y2":139},
      {"x":532.89,"y":66,"x2":533.71,"y2":85.7},
      {"x":532.18,"y":26.7,"x2":534.12,"y2":51.7}
    ],
    "la": [{"x":1098,"y":231,"s":"反应后"},{"x":1098,"y":81,"s":"反应前"}],
    "ra": [{"x":54.8,"y":183.3,"s":"Al2p"},{"x":119.7,"y":195,"s":"Si2p"},{"x":566.8,"y":295,"s":"O1s"}],
    "lb": [{"x":102.93,"y":316.7,"s":"102.9"},{"x":102.81,"y":146.7,"s":"102.9"},{"x":108.78,"y":171.7,"s":"反应后"},{"x":108.78,"y":40,"s":"反应前"}],
    "lc": [{"x":74.96,"y":321.7,"s":"74.5"},{"x":75.04,"y":143.4,"s":"74.5"},{"x":84.36,"y":175,"s":"反应后"},{"x":84.36,"y":40,"s":"反应前"}],
    "ld": [{"x":530.1,"y":269.2,"s":"531.5"},{"x":532.13,"y":269.2,"s":"532.0"},{"x":534.31,"y":250,"s":"532.7"},{"x":530.54,"y":150.9,"s":"531.5"},{"x":534.09,"y":99.2,"s":"532.7"},{"x":534.73,"y":67.5,"s":"532.0"},{"x":538.75,"y":192.7,"s":"反应后"},{"x":538.75,"y":34.4,"s":"反应前"}]
  },
  "columns": 2,
  "spacing": {"row": 136.7, "column": 133},
  "bounds": "flush",
  "concat": [
    {
      "width": 415, "height": 330,
      "title": {"text": "(a) 全谱", "orient": "bottom"},
      "encoding": {
        "x": {"field": "x", "type": "quantitative", "title": "结合能/eV",
              "scale": {"domain": [0, 1200], "nice": false, "zero": false},
              "axis": {"values": [0,100,200,300,400,500,600,700,800,900,1000,1100,1200],
                       "labelExpr": "datum.value % 200 == 0 ? replace(format(datum.value, ','), ',', ' ') : ''",
                       "tickSize": {"condition": {"test": "datum.value % 200 == 0", "value": -7}, "value": -4}}},
        "y": {"field": "y", "type": "quantitative", "scale": {"domain": [0, 330], "nice": false, "zero": false}, "axis": null}
      },
      "layer": [
        {"data": {"name": "a"}, "mark": {"type": "line", "color": "#000", "strokeWidth": 1.4}, "encoding": {"detail": {"field": "t", "type": "nominal"}}},
        {"data": {"name": "la"}, "mark": {"type": "text", "align": "center", "baseline": "middle"}, "encoding": {"text": {"field": "s"}}},
        {"data": {"name": "ra"}, "mark": {"type": "text", "font": "Liberation Serif", "angle": 270, "align": "left", "baseline": "middle"}, "encoding": {"text": {"field": "s"}}}
      ]
    },
    {
      "width": 413, "height": 330,
      "title": {"text": "(b) Si2p谱", "orient": "bottom"},
      "encoding": {
        "x": {"field": "x", "type": "quantitative", "title": "结合能/eV",
              "scale": {"domain": [96, 110], "nice": false, "zero": false},
              "axis": {"values": [96,97,98,99,100,101,102,103,104,105,106,107,108,109,110],
                       "labelExpr": "datum.value % 2 == 0 ? format(datum.value, 'd') : ''",
                       "tickSize": {"condition": {"test": "datum.value % 2 == 0", "value": -7}, "value": -4}}},
        "y": {"field": "y", "type": "quantitative", "scale": {"domain": [0, 330], "nice": false, "zero": false}, "axis": null}
      },
      "layer": [
        {"data": {"name": "b"}, "mark": {"type": "line", "color": "#000", "strokeWidth": 1.4}, "encoding": {"detail": {"field": "t", "type": "nominal"}}},
        {"data": {"name": "lb"}, "mark": {"type": "text", "align": "center", "baseline": "middle"}, "encoding": {"text": {"field": "s"}}}
      ]
    },
    {
      "width": 415, "height": 330,
      "title": {"text": "(c) Al2p谱", "orient": "bottom"},
      "encoding": {
        "x": {"field": "x", "type": "quantitative", "title": "结合能/eV",
              "scale": {"domain": [66, 86], "nice": false, "zero": false},
              "axis": {"values": [66,68,70,72,74,76,78,80,82,84,86], "format": "d", "tickSize": -7}},
        "y": {"field": "y", "type": "quantitative", "scale": {"domain": [0, 330], "nice": false, "zero": false}, "axis": null}
      },
      "layer": [
        {"data": {"name": "c"}, "mark": {"type": "line", "color": "#000", "strokeWidth": 1.4}, "encoding": {"detail": {"field": "t", "type": "nominal"}}},
        {"data": {"name": "lc"}, "mark": {"type": "text", "align": "center", "baseline": "middle"}, "encoding": {"text": {"field": "s"}}}
      ]
    },
    {
      "width": 415, "height": 330,
      "title": {"text": "(d) O1s谱", "orient": "bottom"},
      "encoding": {
        "x": {"field": "x", "type": "quantitative", "title": "结合能/eV",
              "scale": {"domain": [526, 540], "nice": false, "zero": false},
              "axis": {"values": [526,527,528,529,530,531,532,533,534,535,536,537,538,539,540],
                       "labelExpr": "datum.value % 2 == 0 ? format(datum.value, 'd') : ''",
                       "tickSize": {"condition": {"test": "datum.value % 2 == 0", "value": -7}, "value": -4}}},
        "y": {"field": "y", "type": "quantitative", "scale": {"domain": [0, 330], "nice": false, "zero": false}, "axis": null}
      },
      "layer": [
        {"data": {"name": "d"}, "transform": [{"filter": "datum.c == 'p'"}],
         "mark": {"type": "area", "color": "#FF69B4", "opacity": 0.75, "line": {"color": "#EE5C9E", "strokeWidth": 1.2, "opacity": 1}},
         "encoding": {"y2": {"field": "b"}, "detail": {"field": "t", "type": "nominal"}}},
        {"data": {"name": "d"}, "transform": [{"filter": "datum.c == 'c'"}],
         "mark": {"type": "area", "color": "#7FFFD4", "opacity": 0.7, "line": {"color": "#5EEBC5", "strokeWidth": 1.2, "opacity": 1}},
         "encoding": {"y2": {"field": "b"}, "detail": {"field": "t", "type": "nominal"}}},
        {"data": {"name": "d"}, "transform": [{"filter": "datum.c == 'o'"}],
         "mark": {"type": "area", "color": "#F5C242", "opacity": 0.6, "line": {"color": "#EBB12E", "strokeWidth": 1.5, "opacity": 1}},
         "encoding": {"y2": {"field": "b"}, "detail": {"field": "t", "type": "nominal"}}},
        {"data": {"name": "d"}, "transform": [{"filter": "datum.c == 'g'"}],
         "mark": {"type": "area", "color": "#B8D86A", "opacity": 0.85, "line": {"color": "#B0D060", "strokeWidth": 1.2, "opacity": 1}},
         "encoding": {"y2": {"field": "b"}, "detail": {"field": "t", "type": "nominal"}}},
        {"data": {"name": "d"}, "transform": [{"filter": "datum.c == 'e'"}],
         "mark": {"type": "line", "color": "#7CEE7C", "strokeWidth": 1.5},
         "encoding": {"detail": {"field": "t", "type": "nominal"}}},
        {"data": {"name": "d"}, "transform": [{"filter": "datum.c == 'o'"}],
         "mark": {"type": "line", "color": "#EDB634", "strokeWidth": 2.2},
         "encoding": {"y": {"field": "b", "type": "quantitative", "scale": {"domain": [0, 330], "nice": false, "zero": false}, "axis": null}, "detail": {"field": "t", "type": "nominal"}}},
        {"data": {"name": "ar"}, "mark": {"type": "rule", "color": "#000", "strokeWidth": 1.6},
         "encoding": {"x2": {"field": "x2"}, "y2": {"field": "y2"}}},
        {"data": {"name": "ar"},
         "transform": [{"calculate": "atan2((datum.x - datum.x2) * 29.64, datum.y - datum.y2) * 180 / PI", "as": "ang"}],
         "mark": {"type": "point", "shape": "M0,0L-0.75,2.4L0.75,2.4Z", "filled": true, "color": "#000", "opacity": 1, "size": 100, "strokeWidth": 0},
         "encoding": {"angle": {"field": "ang", "type": "quantitative", "scale": null}}},
        {"data": {"name": "ld"}, "mark": {"type": "text", "align": "center", "baseline": "middle"}, "encoding": {"text": {"field": "s"}}}
      ]
    }
  ]
}
